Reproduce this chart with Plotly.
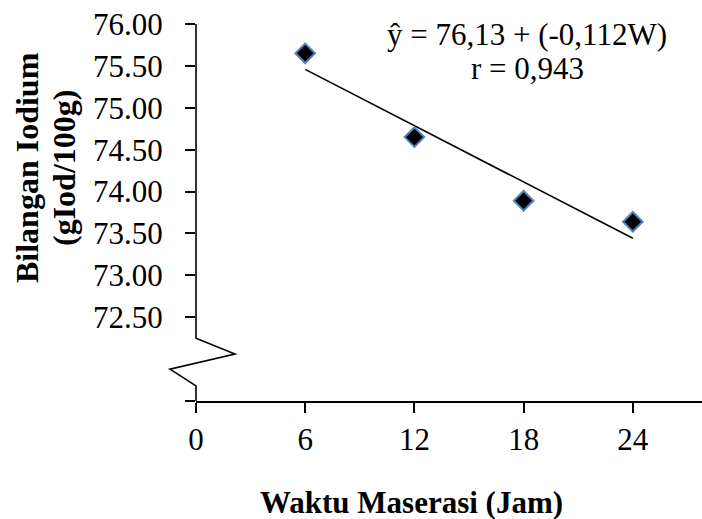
import plotly.graph_objects as go

# ---- data ----
waktu = [6, 12, 18, 24]
iodium = [75.65, 74.65, 73.89, 73.64]
x_ticks = [0, 6, 12, 18, 24]
y_ticks = [72.5, 73.0, 73.5, 74.0, 74.5, 75.0, 75.5, 76.0]
intercept = 76.13
slope = -0.112
r_value = 0.943

X_RANGE = [0, 27.8]
Y_RANGE = [71.5, 76.0]
FONT = "Liberation Serif"
FS = 31

fit_x = [waktu[0], waktu[-1]]
fit_y = [intercept + slope * x for x in fit_x]

fig = go.Figure()
fig.add_trace(go.Scatter(x=fit_x, y=fit_y, mode="lines",
                         line=dict(color="black", width=1.6), showlegend=False,
                         hoverinfo="skip"))
fig.add_trace(go.Scatter(x=waktu, y=iodium, mode="markers",
                         marker=dict(symbol="diamond", size=15, color="black",
                                     line=dict(color="#4F81BD", width=2)),
                         showlegend=False))


def px(x):
    return (x - X_RANGE[0]) / (X_RANGE[1] - X_RANGE[0])


def py(y):
    return (y - Y_RANGE[0]) / (Y_RANGE[1] - Y_RANGE[0])


# y-axis line with break zig-zag (decoration, in paper coordinates)
brk = [(0, 76.0), (0, 72.25), (2.14, 72.06), (-1.43, 71.88), (0, 71.68), (0, 71.5)]
path = "M " + " L ".join(f"{px(a):.5f},{py(b):.5f}" for a, b in brk)
fig.add_shape(type="path", path=path, xref="paper", yref="paper",
              line=dict(color="black", width=1.6))

fig.update_layout(
    width=702, height=519,
    margin=dict(l=196, r=0, t=24, b=118),
    paper_bgcolor="white", plot_bgcolor="white",
    font=dict(family=FONT, size=FS, color="black"),
    xaxis=dict(range=X_RANGE, tickvals=x_ticks, ticktext=[str(v) for v in x_ticks],
               showline=True, linecolor="black", linewidth=1.6,
               ticks="outside", ticklen=10, tickwidth=1.6, tickcolor="black",
               showgrid=False, zeroline=False, ticklabelstandoff=0),
    yaxis=dict(range=Y_RANGE, tickvals=[Y_RANGE[0]] + y_ticks,
               ticktext=[""] + [f"{v:.2f}" for v in y_ticks],
               showline=False, ticks="outside", ticklen=10, tickwidth=1.6,
               tickcolor="black", showgrid=False, zeroline=False,
               ticklabelstandoff=16),
    annotations=[
        dict(text=f"ŷ = {intercept:.2f} + ({slope:.3f}W)".replace(".", ","),
             xref="paper", yref="paper", x=(527 - 196) / 506, y=(401 - 34) / 377,
             showarrow=False, xanchor="center", yanchor="middle",
             font=dict(family=FONT, size=FS)),
        dict(text=f"r = {r_value:.3f}".replace(".", ","),
             xref="paper", yref="paper", x=(527 - 196) / 506, y=(401 - 68) / 377,
             showarrow=False, xanchor="center", yanchor="middle",
             font=dict(family=FONT, size=FS)),
        dict(text="<b>Waktu Maserasi (Jam)</b>", xref="paper", yref="paper",
             x=(411 - 196) / 506, y=-(502 - 401) / 377, showarrow=False,
             xanchor="center", yanchor="middle", font=dict(family=FONT, size=FS)),
        dict(text="<b>Bilangan Iodium</b>", xref="paper", yref="paper",
             x=(27 - 196) / 506, y=(401 - 168) / 377, showarrow=False, textangle=-90,
             xanchor="center", yanchor="middle", font=dict(family=FONT, size=32)),
        dict(text="<b>(gIod/100g)</b>", xref="paper", yref="paper",
             x=(64 - 196) / 506, y=(401 - 168) / 377, showarrow=False, textangle=-90,
             xanchor="center", yanchor="middle", font=dict(family=FONT, size=32)),
    ],
)

fig.write_html("out.html",
               config={"displayModeBar": False},
               post_script="document.body.style.margin='0';"
                           "document.body.style.overflow='hidden';")
